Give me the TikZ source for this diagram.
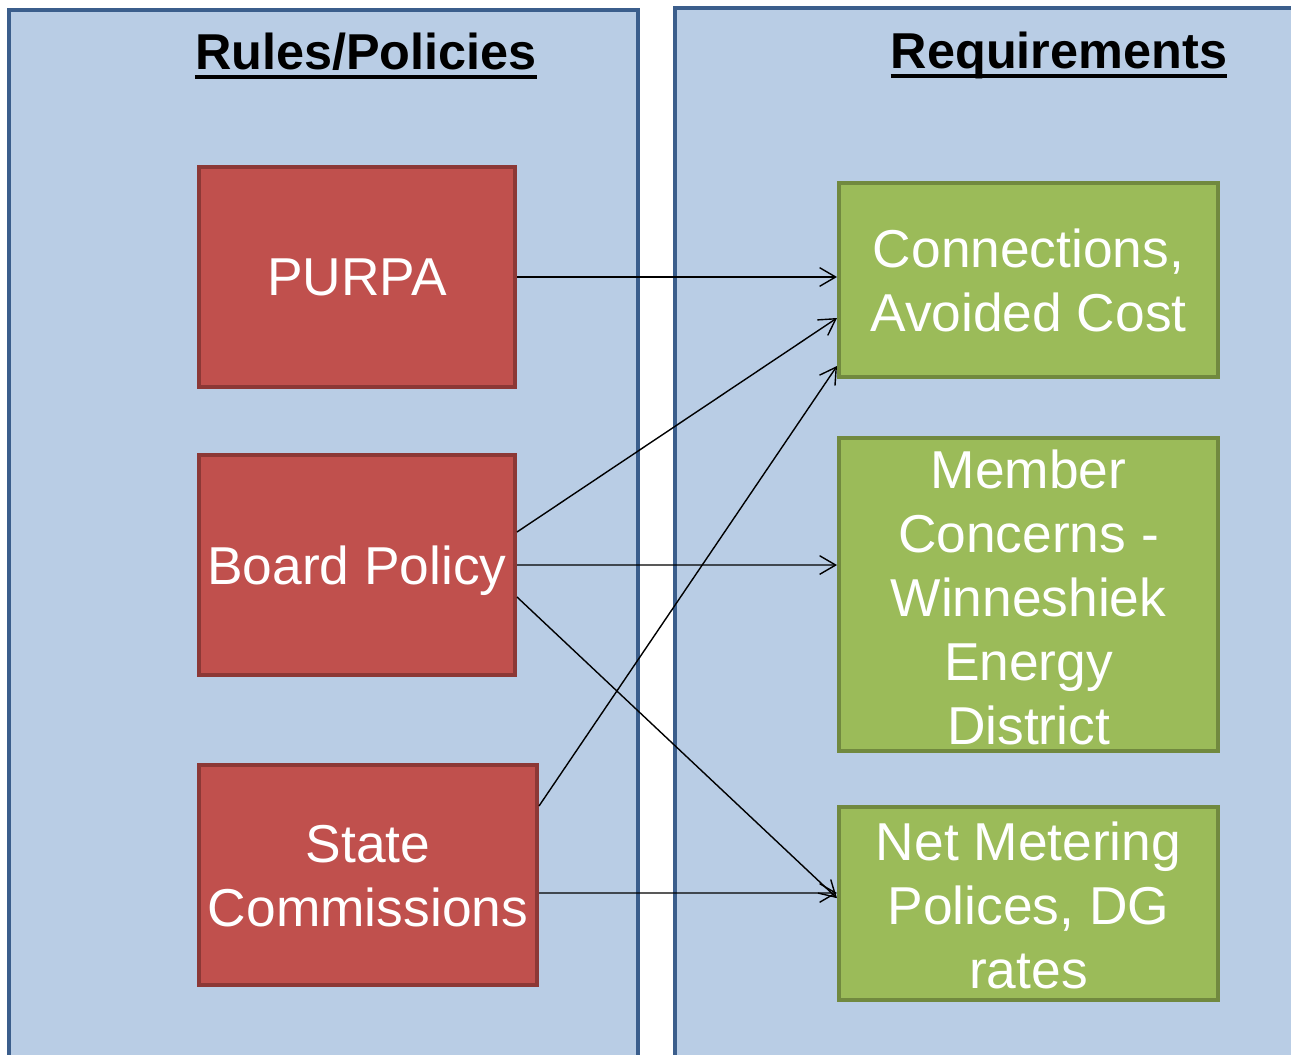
\documentclass[tikz,border=0pt]{standalone}
\usepackage{fontspec}
\setmainfont{Liberation Sans}
\usetikzlibrary{arrows.meta}
\definecolor{panelfill}{HTML}{B9CDE5}
\definecolor{paneledge}{HTML}{3B5E8C}
\definecolor{redfill}{HTML}{C0504D}
\definecolor{rededge}{HTML}{8C3836}
\definecolor{greenfill}{HTML}{9BBB59}
\definecolor{greenedge}{HTML}{71893F}
\tikzset{
  panel/.style={draw=paneledge,fill=panelfill,line width=3.6pt},
  redbox/.style={draw=rededge,fill=redfill,line width=3pt,minimum height=165pt,inner sep=0pt},
  greenbox/.style={draw=greenedge,fill=greenfill,line width=3pt,minimum width=284.25pt,inner sep=0pt},
  boxtext/.style={text=white,align=center,inner sep=0pt,font=\fontsize{40}{48}\selectfont},
  title/.style={inner sep=0pt,anchor=base,font=\fontsize{37.8}{45}\selectfont\bfseries},
  uline/.style={line width=3.2pt},
  conn/.style={line width=1.05pt,-{Straight Barb[length=12pt,width=14pt,line width=1.05pt]}}
}
\begin{document}
\begin{tikzpicture}[x=0.75pt,y=-0.75pt]
\useasboundingbox (0,0) rectangle (1291,1055);
\clip (0,0) rectangle (1291,1055);
% panels
\path[panel] (9,10) rectangle (638,1057);
\path[panel] (675,8) rectangle (1310,1057);
% titles
\node[title] (t1) at (366,70) {Rules/Policies};
\draw[uline] ([yshift=-5.5pt]t1.base west) -- ([yshift=-5.5pt]t1.base east);
\node[title] (t2) at (1059,69) {Requirements};
\draw[uline] ([yshift=-5.5pt]t2.base west) -- ([yshift=-5.5pt]t2.base east);
% red boxes
\node[redbox,minimum width=237pt] (p) at (357,277) {};
\node[boxtext] (pt) at (p) {PURPA};
\node[redbox,minimum width=237pt] (b) at (357,565) {};
\node[boxtext] (bt) at (357,571) {Board Policy};
\node[redbox,minimum width=253.5pt] (s) at (368,875) {};
\node[boxtext] (st) at (368,876) {State\\Commissions};
% green boxes
\node[greenbox,minimum height=145.5pt] (c) at (1028.5,280) {};
\node[boxtext] (ct) at (c) {Connections,\\Avoided Cost};
\node[greenbox,minimum height=234.75pt] (m) at (1028.5,594.5) {};
\node[boxtext] (mt) at (1028.5,597) {Member\\Concerns -\\Winneshiek\\Energy\\District};
\node[greenbox,minimum height=144.75pt] (n) at (1028.5,903.5) {};
\node[boxtext] (nt) at (1028.5,905) {Net Metering\\Polices, DG\\rates};
% connectors
\draw[conn] (p.east) -- ([yshift=2.25pt]c.west);
\draw[conn] ([yshift=24.75pt]b.east) -- ([yshift=-28.5pt]c.west);
\draw[conn] ([yshift=51.75pt]s.east) -- ([yshift=-64.5pt]c.west);
\draw[conn] (b.east) -- ([yshift=22.1pt]m.west);
\draw[conn] ([yshift=-24pt]b.east) -- ([yshift=4pt]n.west);
\draw[conn] ([yshift=-13.5pt]s.east) -- ([yshift=7.9pt]n.west);
\end{tikzpicture}
\end{document}
